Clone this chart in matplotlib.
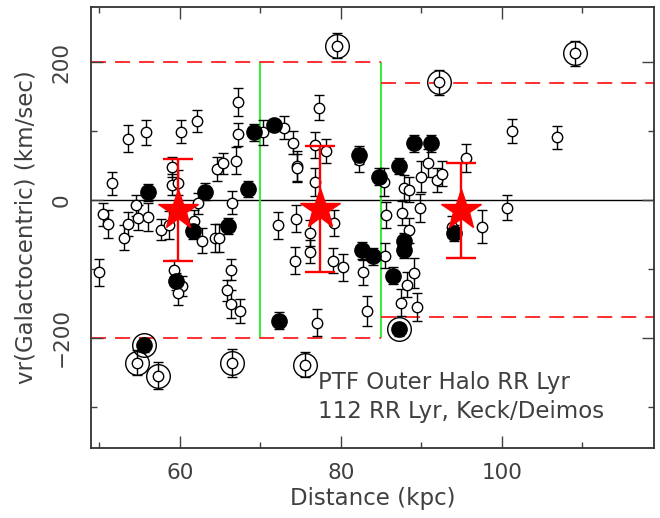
import matplotlib.pyplot as plt

plt.rcParams['font.family'] = 'DejaVu Sans'
plt.rcParams['lines.scale_dashes'] = False

# open circles: distance (kpc), vr (km/s), error
open_x = [49.9, 50.4, 51.1, 51.6, 53.0, 53.5, 53.5, 54.5, 54.8, 55.8,
          56.0, 57.7, 58.7, 59.0, 59.0, 59.8, 60.1, 59.3, 60.2, 59.7,
          61.8, 62.2, 62.1, 62.7, 64.3, 64.9, 64.6, 65.3, 66.5, 67.0,
          67.2, 67.2, 66.4, 65.8, 66.4, 67.4, 70.3, 72.9, 74.0, 74.6,
          74.6, 76.8, 76.8, 77.3, 78.1, 82.3, 85.4, 72.2, 74.4, 76.1,
          76.1, 74.3, 79.1, 79.0, 80.2, 82.7, 85.5, 83.3, 77.0, 85.6,
          87.6, 89.8, 88.5, 87.9, 88.4, 89.9, 90.8, 92.0, 92.6, 89.1,
          88.2, 87.5, 89.5, 93.8, 95.6, 97.5, 100.6, 101.3, 106.8]
open_y = [-105, -21, -35, 24, -55, -35, 89, -8, -26, 98,
          -25, -43, -36, 48, 22, 25, 99, -102, -125, -135,
          -30, -5, 114, -59, -55, -55, 45, 53, -4, 57,
          95, 142, -101, -131, -151, -161, 98, 105, 83, 49,
          46, 26, 80, 134, 71, 58, 26, -37, -27, -48,
          -75, -88, -33, -88, -98, -105, -81, -161, -178, -22,
          -19, -12, -44, 18, 15, 34, 54, 29, 38, -106,
          -123, -149, -155, -39, 61, -39, -11, 100, 91]
open_err = [20, 17, 20, 17, 18, 18, 20, 15, 18, 18,
            20, 15, 20, 15, 15, 18, 17, 15, 15, 18,
            15, 15, 16, 18, 20, 20, 18, 15, 17, 20,
            17, 20, 15, 15, 20, 17, 18, 17, 17, 22,
            20, 20, 19, 18, 18, 18, 20, 20, 19, 19,
            17, 20, 19, 18, 20, 18, 18, 22, 20, 19,
            18, 20, 18, 18, 18, 22, 20, 17, 18, 22,
            18, 20, 20, 15, 20, 24, 18, 18, 17]

# filled circles
fill_x = [56.0, 63.1, 68.5, 69.2, 71.7, 82.3, 84.7, 87.2, 89.1, 91.2,
          61.6, 66.0, 59.5, 72.3, 82.6, 84.0, 87.8, 87.9, 86.5, 94.0]
fill_y = [11, 12, 16, 98, 109, 65, 34, 49, 82, 82,
          -45, -38, -118, -175, -73, -82, -60, -72, -110, -48]
fill_err = [12, 12, 12, 12, 8, 13, 12, 12, 12, 12,
            12, 12, 12, 12, 12, 12, 12, 12, 12, 12]

# circled points (outliers beyond the limits)
ring_open_x = [79.5, 92.2, 109.1, 54.7, 57.3, 66.5, 75.5]
ring_open_y = [224, 171, 213, -236, -255, -237, -239]
ring_open_err = [18, 18, 18, 18, 20, 20, 18]
ring_fill_x = [55.5, 87.2]
ring_fill_y = [-210, -188]
ring_fill_err = [10, 10]

# binned means (stars)
star_x = [59.8, 77.4, 94.9]
star_y = [-14, -13, -15]
star_err = [74, 91, 69]

# cut lines
bin_edges = [70, 85]
cut_x0 = [48.95, 85]
cut_x1 = [85, 118.9]
cut_upper = [200, 170]
cut_lower = [-200, -170]

fig = plt.figure(figsize=(6.6, 5.18), dpi=100)
ax = fig.add_axes([0.1379, 0.1351, 0.853, 0.8514])
ax.set_xlim(48.95, 118.9)
ax.set_ylim(-360, 280)

ax.axhline(0, color='k', lw=1.0, zorder=1)
ax.vlines(bin_edges, -200, 200, color='#22ee22', lw=1.3, zorder=1)
ax.hlines(cut_upper, cut_x0, cut_x1, color='#ff2020', lw=1.3,
          linestyles=[(0, (10.8, 6.5))], zorder=1)
ax.hlines(cut_lower, cut_x0, cut_x1, color='#ff2020', lw=1.3,
          linestyles=[(0, (10.8, 6.5))], zorder=1)

eb = dict(fmt='none', ecolor='k', elinewidth=1.0, capsize=3.6, capthick=1.0, zorder=2)
ax.errorbar(open_x, open_y, yerr=open_err, **eb)
ax.errorbar(fill_x, fill_y, yerr=fill_err, **eb)
ax.errorbar(ring_open_x, ring_open_y, yerr=ring_open_err, **eb)
ax.errorbar(ring_fill_x, ring_fill_y, yerr=ring_fill_err, **eb)

ax.plot(ring_open_x, ring_open_y, 'o', ms=17, mfc='none', mec='k', mew=1.0, zorder=3)
ax.plot(ring_fill_x, ring_fill_y, 'o', ms=17, mfc='none', mec='k', mew=1.0, zorder=3)
ax.plot(open_x + ring_open_x, open_y + ring_open_y, 'o', ms=7.5, mfc='white',
        mec='k', mew=1.0, zorder=3)
ax.plot(fill_x + ring_fill_x, fill_y + ring_fill_y, 'o', ms=11, mfc='k',
        mec='k', zorder=4)

ax.errorbar(star_x, star_y, yerr=star_err, fmt='none', ecolor='#ff0000',
            elinewidth=1.7, capsize=11, capthick=1.7, zorder=5)
ax.plot(star_x, star_y, '*', ms=30, color='#ff0000', mec='#ff0000', zorder=6)

txt = '0.25'
ax.text(77.1, -265, 'PTF Outer Halo RR Lyr', fontsize=16.5, color=txt, va='center')
ax.text(77.1, -307, '112 RR Lyr, Keck/Deimos', fontsize=16.5, color=txt, va='center')

ax.set_xticks([60, 80, 100])
ax.set_xticks([50, 70, 90, 110], minor=True)
ax.set_yticks([-200, 0, 200])
ax.set_yticks([-300, -100, 100], minor=True)
ax.tick_params(which='both', direction='in', top=True, right=True,
               colors='0.25', labelsize=15.5, width=1.0)
ax.tick_params(which='major', length=8.6)
ax.tick_params(axis='x', which='major', pad=11)
ax.tick_params(axis='y', which='major', pad=14)
ax.tick_params(which='minor', length=4.3)
for lab in ax.get_yticklabels():
    lab.set_rotation(90)
    lab.set_va('center')
for sp in ax.spines.values():
    sp.set_linewidth(1.3)
    sp.set_color('0.2')

ax.set_xlabel('Distance (kpc)', fontsize=16.5, color=txt, labelpad=3)
ax.set_ylabel('vr(Galactocentric) (km/sec)', fontsize=16.5, color=txt, labelpad=10)

fig.savefig('out.png', dpi=100)
